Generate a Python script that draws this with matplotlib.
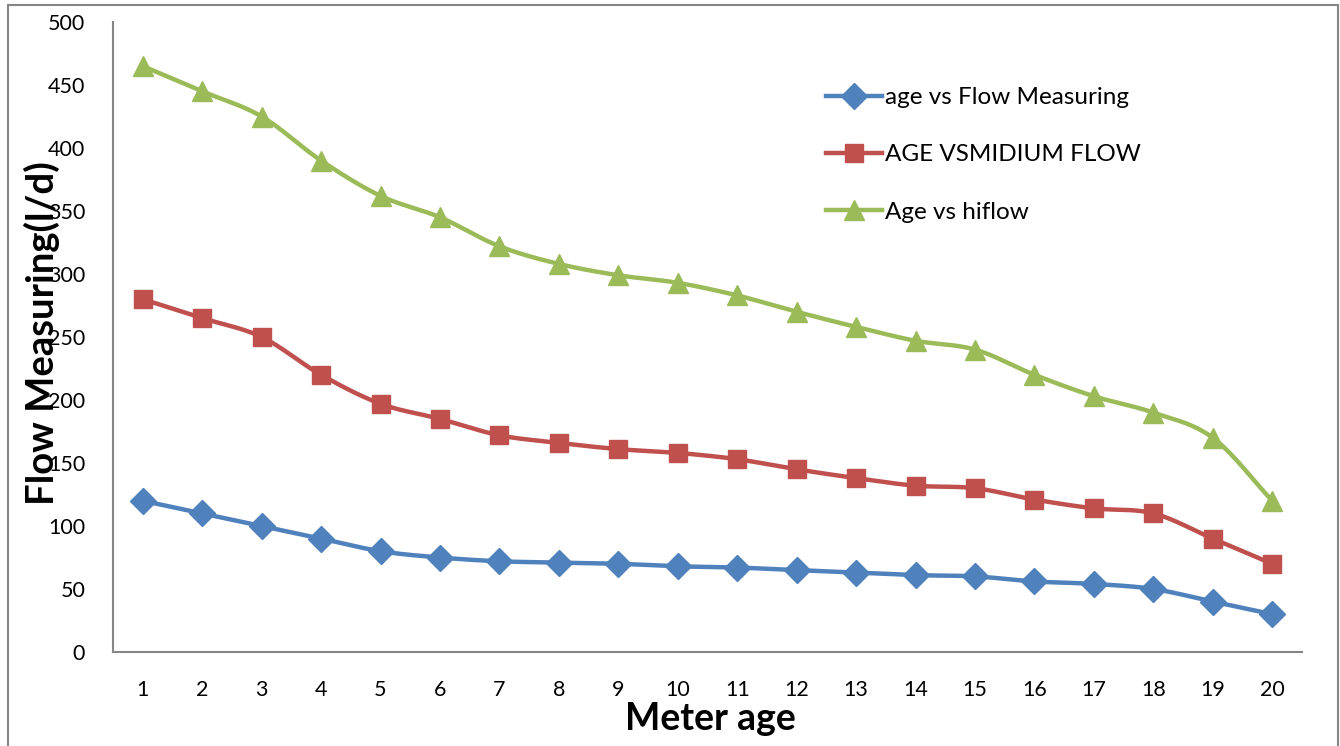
import numpy as np
import matplotlib.pyplot as plt
from matplotlib.patches import Rectangle

plt.rcParams["font.family"] = ["Lato", "DejaVu Sans"]

ages = list(range(1, 21))
age_vs_flow = [120, 110, 100, 90, 80, 75, 72, 71, 70, 68, 67, 65, 63, 61, 60, 56, 54, 50, 40, 30]
age_vs_medium = [280, 265, 250, 220, 197, 185, 172, 166, 161, 158, 153, 145, 138, 132, 130, 121, 114, 110, 90, 70]
age_vs_high = [465, 445, 425, 390, 362, 345, 322, 308, 299, 293, 283, 270, 258, 247, 240, 220, 203, 190, 170, 120]

BLUE = "#4f81bd"
RED = "#c0504d"
GREEN = "#9bbb59"
AXIS = "#868686"


def smooth(x, y, steps=20):
    # Catmull-Rom curve through the points, like a spreadsheet "smoothed line"
    x = np.asarray(x, float)
    y = np.asarray(y, float)
    px = np.concatenate([[2 * x[0] - x[1]], x, [2 * x[-1] - x[-2]]])
    py = np.concatenate([[2 * y[0] - y[1]], y, [2 * y[-1] - y[-2]]])
    xs, ys = [], []
    t = np.linspace(0, 1, steps, endpoint=False)
    for i in range(1, len(px) - 2):
        for p, out in ((px, xs), (py, ys)):
            p0, p1, p2, p3 = p[i - 1], p[i], p[i + 1], p[i + 2]
            out.extend(0.5 * (2 * p1 + (-p0 + p2) * t
                              + (2 * p0 - 5 * p1 + 4 * p2 - p3) * t ** 2
                              + (-p0 + 3 * p1 - 3 * p2 + p3) * t ** 3))
    xs.append(x[-1])
    ys.append(y[-1])
    return xs, ys


fig = plt.figure(figsize=(13.4, 7.46), dpi=100)
ax = fig.add_axes([113 / 1340, 1 - 652 / 746, (1302 - 113) / 1340, (652 - 22) / 746])

series = [
    (age_vs_flow, BLUE, "D", 13.5, "age vs Flow Measuring"),
    (age_vs_medium, RED, "s", 13.5, "AGE VSMIDIUM FLOW"),
    (age_vs_high, GREEN, "^", 15, "Age vs hiflow"),
]
for values, color, marker, size, label in series:
    sx, sy = smooth(ages, values)
    ax.plot(sx, sy, color=color, linewidth=3.2, solid_capstyle="round", zorder=2)
    ax.plot(ages, values, linestyle="none", marker=marker, markersize=size,
            color=color, zorder=3)
    ax.plot([], [], color=color, linewidth=3.2, marker=marker, markersize=size, label=label)

ax.set_xlim(0.5, 20.5)
ax.set_ylim(0, 500)
ax.set_xticks(ages)
ax.set_yticks(range(0, 501, 50))
ax.tick_params(length=0, labelsize=15.5)
ax.tick_params(axis="x", pad=20)
ax.tick_params(axis="y", pad=20)
for side in ("top", "right"):
    ax.spines[side].set_visible(False)
for side in ("left", "bottom"):
    ax.spines[side].set_color(AXIS)
    ax.spines[side].set_linewidth(1.5)

fig.text(710 / 1340, 1 - 719 / 746, "Meter age", fontsize=27, fontweight="bold",
         ha="center", va="center")
fig.text(42 / 1340, 1 - 333 / 746, "Flow Measuring(l/d)", rotation=90, fontsize=27.5,
         fontweight="bold", ha="center", va="center")

ax.legend(loc="upper left", bbox_to_anchor=((826 - 113) / 1189, (652 - 87) / 630),
          frameon=False, fontsize=17.5, handlelength=2.3, handletextpad=0.12,
          labelspacing=1.5, borderaxespad=0, borderpad=0)

fig.patches.append(Rectangle((8 / 1340, -0.1), 1330 / 1340, 1.1 - 5 / 746,
                             transform=fig.transFigure, fill=False,
                             edgecolor=AXIS, linewidth=1.5))

fig.savefig("out.png", dpi=100)
